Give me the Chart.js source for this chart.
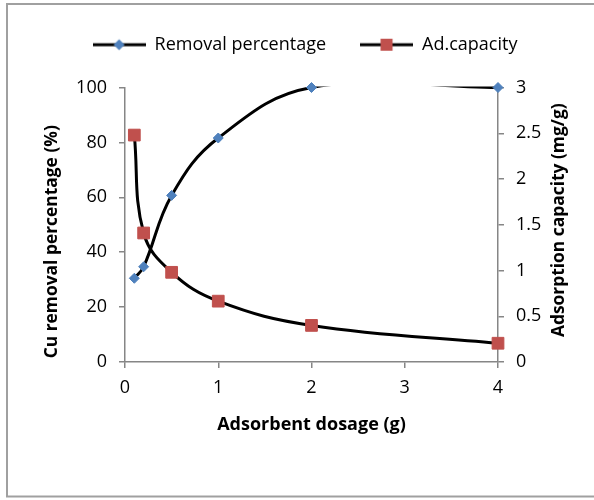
<!DOCTYPE html>
<html>
<head>
<meta charset="utf-8">
<script src="https://cdn.jsdelivr.net/npm/chart.js@4/dist/chart.umd.min.js"></script>
<style>
  html, body { margin: 0; padding: 0; background: #fff; }
  #wrap { position: relative; width: 594px; height: 500px; }
</style>
</head>
<body>
<div id="wrap"><canvas id="c" width="594" height="500"></canvas></div>
<script>
// Adsorbent dosage (g) on the x axis
const dosage = [0.1, 0.2, 0.5, 1, 2, 4];
// Cu removal percentage (%), left axis
const removalPct = [30.5, 34.7, 60.7, 81.6, 100, 100];
// Adsorption capacity (mg/g), right axis
const adCapacity = [2.48, 1.41, 0.98, 0.665, 0.40, 0.205];

const seriesNames = ['Removal percentage', 'Ad.capacity'];
const xTickLabels = ['0', '1', '2', '3', '4'];
const leftTickLabels = ['0', '20', '40', '60', '80', '100'];
const rightTickLabels = ['0', '0.5', '1', '1.5', '2', '2.5', '3'];
const xTitle = 'Adsorbent dosage (g)';
const leftTitle = 'Cu removal percentage (%)';
const rightTitle = 'Adsorption capacity (mg/g)';

const xRange = { min: 0, max: 4, step: 1 };
const leftRange = { min: 0, max: 100, step: 20 };
const rightRange = { min: 0, max: 3, step: 0.5 };

const BLUE = '#4F81BD';
const RED = '#C0504D';
const AXIS = '#868686';
const FONT = '"Open Sans"';

const toPoints = ys => dosage.map((x, i) => ({ x, y: ys[i] }));

// Legend swatch: black line with the series marker in the middle
function swatch(kind, color) {
  const c = document.createElement('canvas');
  c.width = 53; c.height = 14;
  const g = c.getContext('2d');
  g.strokeStyle = '#000'; g.lineWidth = 3;
  g.beginPath(); g.moveTo(0, 7); g.lineTo(53, 7); g.stroke();
  g.fillStyle = color;
  if (kind === 'diamond') {
    g.beginPath();
    g.moveTo(26.5, 1.5); g.lineTo(32, 7); g.lineTo(26.5, 12.5); g.lineTo(21, 7);
    g.closePath(); g.fill();
  } else {
    g.fillRect(20.5, 1, 12, 12);
  }
  return c;
}
const swatches = [swatch('diamond', BLUE), swatch('square', RED)];

const tickFont = { family: FONT, size: 18 };
const gridOpts = { display: true, drawOnChartArea: false, drawTicks: true, tickLength: 6, color: AXIS, lineWidth: 1.5 };
const borderOpts = { display: true, color: AXIS, width: 1.5 };

// Chart frame and the two vertical axis titles
const frameAndTitles = {
  id: 'frameAndTitles',
  beforeDraw(chart) {
    const ctx = chart.ctx;
    ctx.save();
    ctx.fillStyle = '#fff';
    ctx.fillRect(0, 0, chart.width, chart.height);
    ctx.strokeStyle = '#a0a0a0';
    ctx.lineWidth = 2;
    ctx.strokeRect(7, 4, 700, 492.5);
    ctx.restore();
  },
  afterDraw(chart) {
    const { ctx, chartArea } = chart;
    const midY = (chartArea.top + chartArea.bottom) / 2;
    const put = (text, x, y) => {
      ctx.save();
      ctx.fillStyle = '#000';
      ctx.font = 'bold 17.4px ' + FONT;
      ctx.textAlign = 'center';
      ctx.textBaseline = 'middle';
      ctx.translate(x, y);
      ctx.rotate(-Math.PI / 2);
      ctx.fillText(text, 0, 0);
      ctx.restore();
    };
    put(leftTitle, chartArea.left - 72.5, midY + 17);
    put(rightTitle, chartArea.right + 61, midY - 4.5);
  }
};

const lineStyle = {
  showLine: true,
  borderColor: '#000',
  borderWidth: 3,
  pointRadius: 0,
  pointHoverRadius: 0,
  tension: 0.4,
  capBezierPoints: false,
  clip: { left: false, right: false, bottom: false, top: 1 },
  order: 1
};

new Chart(document.getElementById('c'), {
  type: 'scatter',
  data: {
    datasets: [
      Object.assign({ label: seriesNames[0], data: toPoints(removalPct), yAxisID: 'y' }, lineStyle),
      Object.assign({ label: seriesNames[1], data: toPoints(adCapacity), yAxisID: 'y1' }, lineStyle),
      { label: seriesNames[0], data: toPoints(removalPct), yAxisID: 'y', showLine: false,
        pointStyle: 'rectRot', pointRadius: 5, pointBackgroundColor: BLUE, pointBorderColor: BLUE,
        pointBorderWidth: 1, clip: false, order: 0 },
      { label: seriesNames[1], data: toPoints(adCapacity), yAxisID: 'y1', showLine: false,
        pointStyle: 'rect', pointRadius: 8.3, pointBackgroundColor: RED, pointBorderColor: RED,
        pointBorderWidth: 1, clip: false, order: 0 }
    ]
  },
  options: {
    responsive: false,
    animation: false,
    events: [],
    layout: { padding: { left: 16, right: 0, top: 1.7, bottom: 0 } },
    plugins: {
      tooltip: { enabled: false },
      // blank spacer between the legend and the plot
      title: { display: true, text: '', weight: 500, padding: 0, font: { size: 23.8, lineHeight: 1 } },
      legend: {
        position: 'top',
        align: 'center',
        labels: {
          usePointStyle: true,
          pointStyleWidth: 53,
          padding: 34,
          color: '#000',
          font: { family: FONT, size: 18 },
          generateLabels: () => seriesNames.map((name, i) => ({
            text: name,
            pointStyle: swatches[i],
            fillStyle: i ? RED : BLUE,
            strokeStyle: '#000',
            lineWidth: 0,
            hidden: false,
            datasetIndex: i,
            fontColor: '#000'
          }))
        }
      }
    },
    scales: {
      x: {
        type: 'linear', position: 'bottom',
        min: xRange.min, max: xRange.max,
        ticks: { stepSize: xRange.step, color: '#000', font: tickFont, padding: 9,
                 callback: (v, i) => xTickLabels[i] },
        grid: gridOpts, border: borderOpts,
        title: { display: true, text: xTitle, color: '#000', font: { family: FONT, size: 18, weight: 'bold' }, padding: { top: 0, bottom: 64 } },
        afterFit(s) { s.height = 138; }
      },
      y: {
        type: 'linear', position: 'left',
        min: leftRange.min, max: leftRange.max,
        ticks: { stepSize: leftRange.step, color: '#000', font: tickFont, padding: 12,
                 callback: (v, i) => leftTickLabels[i] },
        grid: gridOpts, border: borderOpts,
        afterFit(s) { s.width = 109; }
      },
      y1: {
        type: 'linear', position: 'right',
        min: rightRange.min, max: rightRange.max,
        ticks: { stepSize: rightRange.step, color: '#000', font: tickFont, padding: 12,
                 callback: (v, i) => rightTickLabels[i] },
        grid: gridOpts, border: borderOpts,
        afterFit(s) { s.width = 96; }
      }
    }
  },
  plugins: [frameAndTitles]
});
</script>
</body>
</html>
